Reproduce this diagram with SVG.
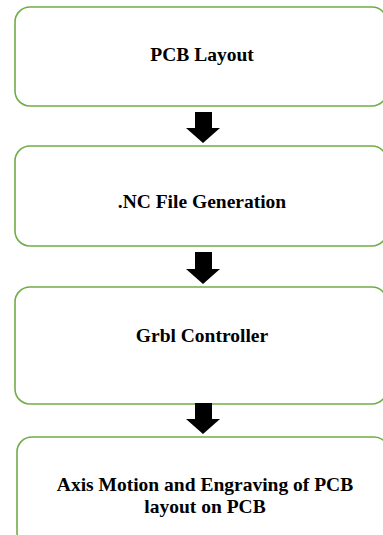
<svg xmlns="http://www.w3.org/2000/svg" width="383" height="535" viewBox="0 0 383 535">
<style>
.box{fill:#fff;stroke:#70AD47;stroke-width:1.6}
.lbl{font-family:"Liberation Serif","Times New Roman",serif;font-weight:bold;font-size:19.5px;fill:#000;text-anchor:middle}
.arr{fill:#000}
</style>
<rect width="383" height="535" fill="#fff"/>
<g id="n1"><rect class="box" x="15" y="7" width="372" height="99" rx="15"/><text class="lbl" x="202" y="61">PCB Layout</text></g>
<g id="n2"><rect class="box" x="15" y="146" width="372" height="100" rx="15"/><text class="lbl" x="202" y="208">.NC File Generation</text></g>
<g id="n3"><rect class="box" x="15" y="287" width="372" height="117" rx="15"/><text class="lbl" x="202" y="342">Grbl Controller</text></g>
<g id="n4"><rect class="box" x="17" y="437" width="372" height="110" rx="15"/><text class="lbl" x="205" y="491">Axis Motion and Engraving of PCB</text><text class="lbl" x="205" y="513">layout on PCB</text></g>
<g id="connectors">
<polygon class="arr" points="195,112 212,112 212,128 220,128 203,143 186,128 195,128"/>
<polygon class="arr" points="195,252 212,252 212,269 220,269 203,284 186,269 195,269"/>
<polygon class="arr" points="195,403 212,403 212,419 220,419 203,434 186,419 195,419"/>
</g>
</svg>
